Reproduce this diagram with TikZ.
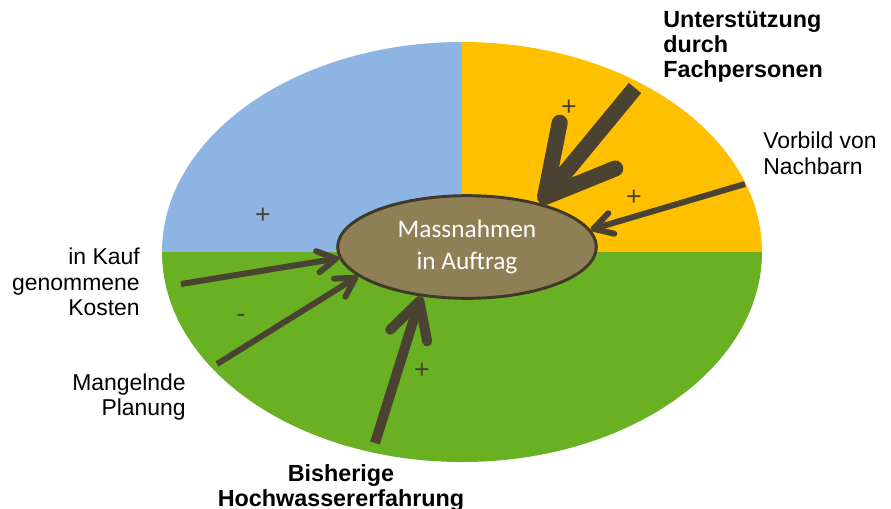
\documentclass[tikz,border=0pt]{standalone}
\usepackage{fontspec}
\setmainfont{Liberation Sans}
\newfontfamily\calibri{Carlito}
\usetikzlibrary{shapes.geometric,arrows.meta}
\definecolor{skyblue}{RGB}{141,180,226}
\definecolor{amber}{RGB}{255,192,0}
\definecolor{grass}{RGB}{106,176,35}
\definecolor{massfill}{RGB}{142,127,85}
\definecolor{rim}{RGB}{62,58,40}
\definecolor{umber}{RGB}{75,67,49}
\tikzset{
  lbl/.style={font=\fontsize{17.2}{19.2}\selectfont, inner sep=0pt},
  boldlbl/.style={font=\fontsize{17.5}{19}\selectfont\bfseries, inner sep=0pt},
  sign/.style={font=\fontsize{20}{20}\selectfont, text=umber, inner sep=0pt},
  infl/.style={draw=umber, line width=4.5pt, -{Straight Barb[length=14pt,width=16pt,round]}},
  midinfl/.style={draw=umber, line width=7.5pt, -{Straight Barb[length=27pt,width=29pt,round]}},
  biginfl/.style={draw=umber, line width=12pt, -{Straight Barb[length=50pt,width=54pt,round]}}
}
\begin{document}
\begin{tikzpicture}[x=0.75pt,y=-0.75pt]
  \useasboundingbox (0,0) rectangle (891,508);
  \begin{scope}
    \clip (462,252) ellipse [x radius=300, y radius=210];
    \fill[grass] (160,252) rectangle (764,464);
    \fill[skyblue] (160,40) rectangle (462,252);
    \fill[amber] (462,40) rectangle (764,252);
  \end{scope}
  \node (mass) at (467,247) [ellipse, draw=rim, line width=2.2pt, fill=massfill,
    minimum width=194pt, minimum height=77pt, inner sep=0pt, text=white,
    align=center, font=\calibri\fontsize{19}{24}\selectfont] {Massnahmen\\in Auftrag};

  \node (fach) at (663,47) [boldlbl, anchor=west, align=left] {Unterstützung\\durch\\Fachpersonen};
  \node (vorbild) at (763,153) [lbl, anchor=west, align=left] {Vorbild von\\Nachbarn};
  \node (kosten) at (140,282) [lbl, anchor=east, align=right] {in Kauf\\genommene\\Kosten};
  \node (planung) at (186,397) [lbl, anchor=east, align=right] {Mangelnde\\Planung};
  \node (erfahrung) at (341,464) [boldlbl, anchor=north, align=center] {Bisherige\\Hochwassererfahrung};

  \coordinate (fachtail) at (635,88);
  \coordinate (vorbildtail) at (745,184);
  \coordinate (kostentail) at (181,284);
  \coordinate (planungtail) at (217,364);
  \coordinate (erfahrungtail) at (375,443);
  \draw[biginfl] (fachtail) -- (mass.31);
  \draw[infl] (vorbildtail) -- (mass.8);
  \draw[infl] (kostentail) -- (mass.185);
  \draw[infl] (planungtail) -- (mass.195);
  \draw[midinfl] (erfahrungtail) -- (mass.227);

  \node (p1) at (263,216) [sign] {+};
  \node (p2) at (569,108) [sign] {+};
  \node (p3) at (634,198) [sign] {+};
  \node (m1) at (241,318) [sign] {-};
  \node (p4) at (422,371) [sign] {+};
\end{tikzpicture}
\end{document}
